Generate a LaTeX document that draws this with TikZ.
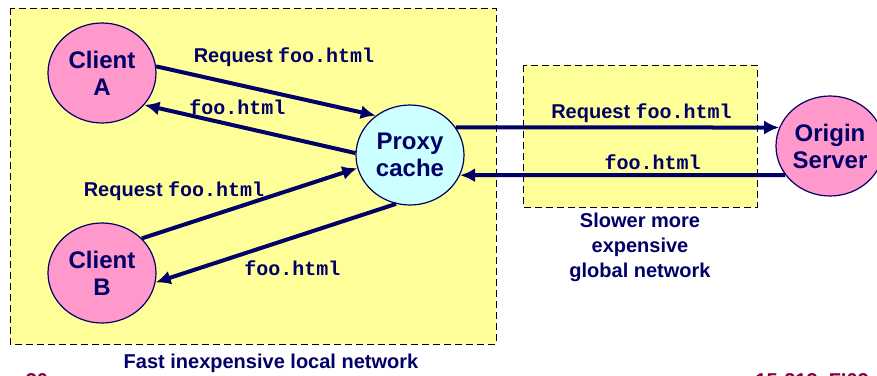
\documentclass[tikz,border=0pt]{standalone}
\usepackage{fontspec}
\setmainfont{Liberation Sans}
\setmonofont{Liberation Mono}
\usetikzlibrary{arrows.meta,shapes.geometric}

\definecolor{navy}{RGB}{0,0,102}
\definecolor{lan yellow}{RGB}{255,255,153}
\definecolor{host pink}{RGB}{255,153,204}
\definecolor{cache cyan}{RGB}{204,255,255}
\definecolor{footer red}{RGB}{128,0,64}
\def\lanBox{(10,8) rectangle (496,344)}
\def\wanBox{(523,65) rectangle (757,207)}
\tikzset{
  network/.style={fill=lan yellow, draw=black, line width=0.5pt, dash pattern=on 3.5pt off 2pt},
  host/.style={ellipse, draw=navy, line width=0.6pt, minimum width=54pt, minimum height=50pt,
    inner sep=0pt, align=center, text=navy, font=\bfseries\fontsize{12}{13.5}\selectfont},
  msg/.style={text=navy, font=\bfseries\fontsize{10}{12}\selectfont, inner sep=0pt}
  }
\tikzstyle{edge} = [draw=navy, line width=2pt, -{Latex[length=7.5pt,width=7pt]}]
\newcommand{\file}{\texttt{foo.html}}

\begin{document}
\begin{tikzpicture}[x=0.5pt,y=-0.5pt]
  \useasboundingbox (0,0) rectangle (877,375);

  \fill[network] \lanBox;
  \draw[network] \lanBox;
  \draw[network] \wanBox;

  \foreach \pos/\name/\txt/\col in {{(102,73)/clientA/Client\\A/host pink},
      {(102,273)/clientB/Client\\B/host pink}, {(410,155)/proxy/Proxy\\cache/cache cyan},
      {(830,146)/origin/Origin\\Server/host pink}} {
    \node[host, fill=\col] (\name) at \pos {\txt};
  }

  \path[edge] (clientA.7) -- (proxy.131);
  \path[edge] (proxy.178) -- (clientA.-37);
  \path[edge] (clientB.41) -- (proxy.194);
  \path[edge] (proxy.254) -- (clientB.-10);
  \path[edge] (proxy.31) -- (origin.160);
  \path[edge] (origin.213) -- (proxy.338);

  % message labels
  \node[msg] (reqA) at (284,57) {Request \file};
  \node[msg] (resA) at (237.5,107) {\file};
  \node[msg] (reqB) at (174,191) {Request \file};
  \node[msg] (resB) at (292.5,268) {\file};
  \node[msg] (reqO) at (641.5,113) {Request \file};
  \node[msg] (resO) at (652.5,162) {\file};

  % network captions
  \node[msg, align=center, font=\bfseries\fontsize{10}{12.5}\selectfont] (wanText) at (640,247)
    {Slower more\\expensive\\global network};
  \node[msg] (lanText) at (271,363) {Fast inexpensive local network};

  \node[msg, text=footer red, anchor=base] (page) at (37,387) {30};
  \node[msg, text=footer red, anchor=base west] (course) at (755,387) {15-213, F'02};
\end{tikzpicture}
\end{document}
